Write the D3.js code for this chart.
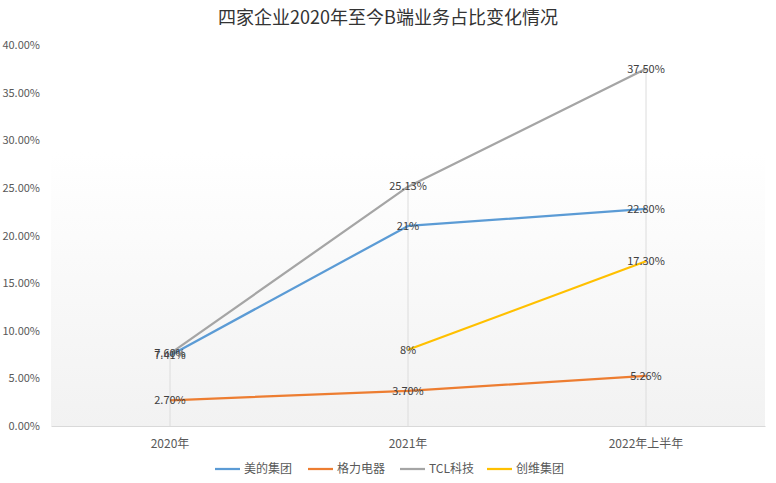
<!DOCTYPE html>
<html><head><meta charset="utf-8">
<script src="https://cdn.jsdelivr.net/npm/d3@7"></script>
<style>body{margin:0;background:#fff}svg{display:block}</style>
</head><body><svg id="c" width="776" height="483"></svg>
<script>
const categories = ["2020年", "2021年", "2022年上半年"];
const seriesNames = ["美的集团", "格力电器", "TCL科技", "创维集团"];
const midea = [7.41, 21, 22.80];
const gree = [2.70, 3.70, 5.26];
const tcl = [7.60, 25.13, 37.50];
const skyworth = [null, 8, 17.30];
const labelsMidea = ["7.41%", "21%", "22.80%"];
const labelsGree = ["2.70%", "3.70%", "5.26%"];
const labelsTcl = ["7.60%", "25.13%", "37.50%"];
const labelsSky = [null, "8%", "17.30%"];
const yTicks = [0, 5, 10, 15, 20, 25, 30, 35, 40];
const colors = ["#5B9BD5", "#ED7D31", "#A5A5A5", "#FFC000"];

const series = [
  {name: seriesNames[0], values: midea, labels: labelsMidea, color: colors[0]},
  {name: seriesNames[1], values: gree, labels: labelsGree, color: colors[1]},
  {name: seriesNames[2], values: tcl, labels: labelsTcl, color: colors[2]},
  {name: seriesNames[3], values: skyworth, labels: labelsSky, color: colors[3]}
];

const svg = d3.select("#c");
const font = "'Noto Sans CJK SC', 'Noto Sans', sans-serif";
const L = 51, R = 765, T = 45, B = 426;
const x = d3.scaleBand().domain(categories).range([L, R]);
const y = d3.scaleLinear().domain([0, 40]).range([B, T]);

const defs = svg.append("defs");
const g = defs.append("linearGradient").attr("id", "bg").attr("x1", 0).attr("y1", 0).attr("x2", 0).attr("y2", 1);
g.append("stop").attr("offset", "0").attr("stop-color", "#ffffff");
g.append("stop").attr("offset", "0.3").attr("stop-color", "#ffffff");
g.append("stop").attr("offset", "1").attr("stop-color", "#f2f2f2");
svg.append("rect").attr("x", L).attr("y", T - 10).attr("width", R - L).attr("height", B - T + 10).attr("fill", "url(#bg)");

// title
svg.append("text").attr("x", 388).attr("y", 24).attr("text-anchor", "middle")
  .attr("font-family", font).attr("font-size", 18).attr("fill", "#333")
  .text("四家企业2020年至今B端业务占比变化情况");

// drop lines
categories.forEach((c, i) => {
  const m = d3.max(series, s => s.values[i]);
  svg.append("line").attr("x1", x(c) + x.bandwidth() / 2).attr("x2", x(c) + x.bandwidth() / 2)
    .attr("y1", y(m)).attr("y2", B).attr("stroke", "#dcdcdc").attr("stroke-width", 1);
});

// x axis
const xa = svg.append("g").attr("transform", `translate(0,${B})`).call(d3.axisBottom(x).tickSize(0).tickPadding(13));
xa.select(".domain").attr("stroke", "#d9d9d9");
xa.selectAll("text").attr("font-family", font).attr("font-size", 12).attr("fill", "#595959");

// y axis
const ya = svg.append("g").attr("transform", `translate(${L},0)`)
  .call(d3.axisLeft(y).tickValues(yTicks).tickSize(0).tickPadding(11).tickFormat(d => d.toFixed(2) + "%"));
ya.select(".domain").remove();
ya.selectAll("text").attr("font-family", font).attr("font-size", 11).attr("fill", "#595959");

// lines
const line = d3.line().defined(d => d.v != null)
  .x(d => x(d.c) + x.bandwidth() / 2).y(d => y(d.v));
series.forEach(s => {
  const pts = categories.map((c, i) => ({c, v: s.values[i]}));
  svg.append("path").datum(pts).attr("d", line).attr("fill", "none")
    .attr("stroke", s.color).attr("stroke-width", 2.25).attr("stroke-linejoin", "round");
});

// labels
series.forEach(s => {
  categories.forEach((c, i) => {
    if (s.values[i] == null) return;
    svg.append("text").attr("x", x(c) + x.bandwidth() / 2).attr("y", y(s.values[i]))
      .attr("dy", "0.35em").attr("text-anchor", "middle")
      .attr("font-family", font).attr("font-size", 11).attr("fill", "#404040")
      .text(s.labels[i]);
  });
});

// legend
const legX = [215, 308, 400, 487];
series.forEach((s, i) => {
  const lg = svg.append("g").attr("transform", `translate(${legX[i]},469)`);
  lg.append("line").attr("x1", 0).attr("x2", 25).attr("stroke", s.color).attr("stroke-width", 2.25);
  lg.append("text").attr("x", 29).attr("dy", "0.35em").attr("font-family", font)
    .attr("font-size", 12).attr("fill", "#595959").text(s.name);
});
</script></body></html>
